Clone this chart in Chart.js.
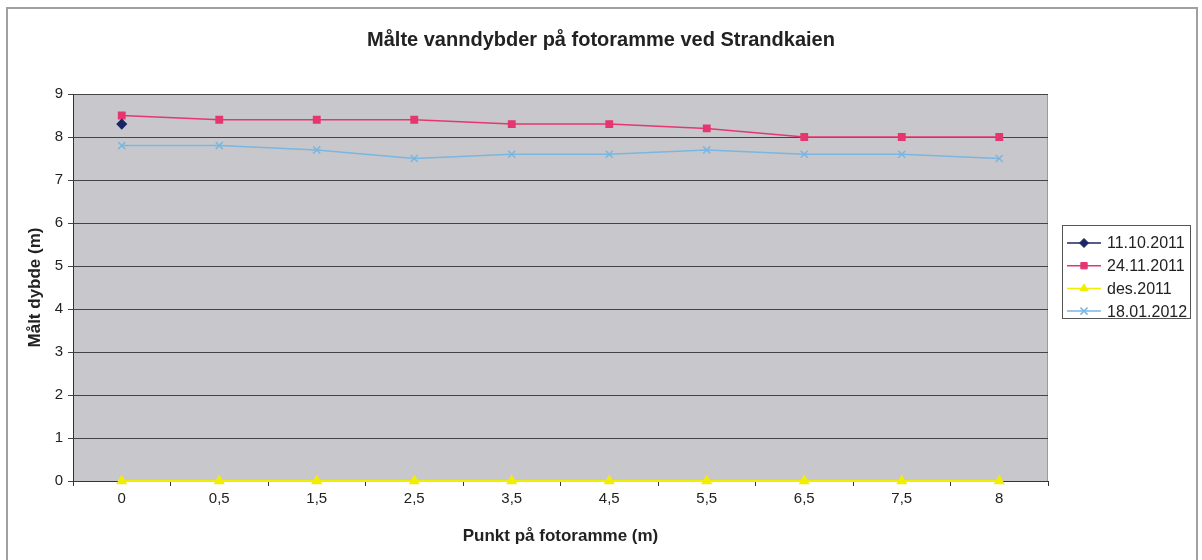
<!DOCTYPE html>
<html lang="no">
<head>
    <meta charset="UTF-8">
    <title>Målte vanndybder på fotoramme ved Strandkaien</title>
    <script src="https://cdn.jsdelivr.net/npm/chart.js"></script>
    <style>
        html, body { margin: 0; padding: 0; background: #fff; }
        .chart-container { width: 1202px; height: 560px; position: relative; }
    </style>
</head>
<body>
    <div class="chart-container">
        <canvas id="depthChart"></canvas>
    </div>

    <script>
        // Measuring points along the photo frame (m)
        const punkter = ['0', '0,5', '1,5', '2,5', '3,5', '4,5', '5,5', '6,5', '7,5', '8'];

        // Measured depths (m) per date; only the first point was measured on 11.10.2011
        const dybde_11_10_2011 = [8.3, null, null, null, null, null, null, null, null, null];
        const dybde_24_11_2011 = [8.5, 8.4, 8.4, 8.4, 8.3, 8.3, 8.2, 8.0, 8.0, 8.0];
        const dybde_des_2011 = [0, 0, 0, 0, 0, 0, 0, 0, 0, 0];
        const dybde_18_01_2012 = [7.8, 7.8, 7.7, 7.5, 7.6, 7.6, 7.7, 7.6, 7.6, 7.5];

        const yTicks = [0, 1, 2, 3, 4, 5, 6, 7, 8, 9];

        const FONT = 'Arial, "Liberation Sans", sans-serif';

        // grey plot area, outer frame and a boxed legend like the spreadsheet original
        const excelLook = {
            id: 'excelLook',
            beforeDraw(chart) {
                const { ctx, chartArea: a } = chart;
                ctx.save();
                ctx.fillStyle = '#c8c8cc';
                ctx.fillRect(a.left, a.top, a.right - a.left, a.bottom - a.top);
                ctx.strokeStyle = '#9a9a9a';
                ctx.lineWidth = 1;
                ctx.strokeRect(a.left + 0.5, a.top + 0.5, a.right - a.left - 1, a.bottom - a.top);
                ctx.restore();
            },
            afterDraw(chart) {
                const ctx = chart.ctx;
                ctx.save();
                // outer frame
                ctx.strokeStyle = '#a0a0a0';
                ctx.lineWidth = 2;
                ctx.strokeRect(7, 8, 1190, 570);

                // legend
                const boxX = 1062.5, boxY = 225.5, boxW = 128, boxH = 93;
                ctx.strokeStyle = '#555';
                ctx.lineWidth = 1;
                ctx.strokeRect(boxX, boxY, boxW, boxH);
                ctx.font = '16px ' + FONT;
                ctx.textBaseline = 'middle';
                chart.data.datasets.forEach((ds, i) => {
                    const y = 243 + i * 22.7;
                    ctx.strokeStyle = ds.borderColor;
                    ctx.lineWidth = 1.5;
                    ctx.beginPath();
                    ctx.moveTo(1067, y);
                    ctx.lineTo(1101, y);
                    ctx.stroke();
                    ctx.fillStyle = ds.pointBackgroundColor;
                    ctx.strokeStyle = ds.pointBorderColor;
                    ctx.lineWidth = ds.pointBorderWidth || 1;
                    Chart.helpers.drawPoint(ctx, {
                        pointStyle: ds.pointStyle,
                        radius: ds.pointRadius,
                        borderWidth: ds.pointBorderWidth || 1,
                        rotation: 0
                    }, 1084, y);
                    ctx.fillStyle = '#222';
                    ctx.fillText(ds.label, 1107, y + 1);
                });
                ctx.restore();
            }
        };

        const ctx = document.getElementById('depthChart').getContext('2d');
        const depthChart = new Chart(ctx, {
            type: 'line',
            data: {
                labels: punkter,
                datasets: [
                    {
                        label: '11.10.2011',
                        data: dybde_11_10_2011,
                        borderColor: '#1c2566',
                        backgroundColor: '#1c2566',
                        pointBackgroundColor: '#1c2566',
                        pointBorderColor: '#1c2566',
                        pointStyle: 'rectRot',
                        pointRadius: 4.5,
                        borderWidth: 1.5
                    },
                    {
                        label: '24.11.2011',
                        data: dybde_24_11_2011,
                        borderColor: '#e6366f',
                        backgroundColor: '#e6366f',
                        pointBackgroundColor: '#e6366f',
                        pointBorderColor: '#e6366f',
                        pointStyle: 'rect',
                        pointRadius: 4.5,
                        borderWidth: 1.5
                    },
                    {
                        label: 'des.2011',
                        data: dybde_des_2011,
                        borderColor: '#f2ee00',
                        backgroundColor: '#f2ee00',
                        pointBackgroundColor: '#f2ee00',
                        pointBorderColor: '#f2ee00',
                        pointStyle: 'triangle',
                        pointRadius: 4.5,
                        borderWidth: 2
                    },
                    {
                        label: '18.01.2012',
                        data: dybde_18_01_2012,
                        borderColor: '#7ab6e0',
                        backgroundColor: '#7ab6e0',
                        pointBackgroundColor: '#7ab6e0',
                        pointBorderColor: '#7ab6e0',
                        pointStyle: 'crossRot',
                        pointRadius: 5,
                        pointBorderWidth: 1.5,
                        borderWidth: 1.5
                    }
                ]
            },
            options: {
                responsive: true,
                maintainAspectRatio: false,
                animation: false,
                clip: false,
                layout: {
                    padding: { left: 7, right: 7, top: 10, bottom: 10 }
                },
                elements: {
                    line: { tension: 0 }
                },
                scales: {
                    x: {
                        offset: true,
                        afterFit(scale) { scale.height = 69; },
                        border: { color: '#333', width: 1 },
                        grid: {
                            offset: true,
                            drawOnChartArea: false,
                            tickLength: 5,
                            color: '#333'
                        },
                        ticks: {
                            color: '#222',
                            font: { family: FONT, size: 15 },
                            padding: 4,
                            maxRotation: 0
                        },
                        title: {
                            display: true,
                            text: 'Punkt på fotoramme (m)',
                            color: '#222',
                            font: { family: FONT, size: 17, weight: 'bold' },
                            padding: { top: 0, bottom: 3.8 }
                        }
                    },
                    y: {
                        min: 0,
                        max: 9,
                        afterFit(scale) { scale.width = 66; },
                        afterBuildTicks(scale) {
                            scale.ticks = yTicks.map(v => ({ value: v }));
                        },
                        border: { color: '#333', width: 1 },
                        grid: {
                            color: '#444',
                            tickLength: 5
                        },
                        ticks: {
                            color: '#222',
                            font: { family: FONT, size: 15 },
                            padding: 5
                        },
                        title: {
                            display: true,
                            text: 'Målt dybde (m)',
                            color: '#222',
                            font: { family: FONT, size: 17, weight: 'bold' },
                            padding: { top: 17.8, bottom: 0 }
                        }
                    },
                    // empty right-hand axis reserving the room the legend sits in
                    legendRoom: {
                        position: 'right',
                        min: 0,
                        max: 9,
                        afterFit(scale) { scale.width = 147; },
                        border: { display: false },
                        grid: { display: false, drawTicks: false },
                        ticks: { display: false }
                    }
                },
                plugins: {
                    legend: { display: false },
                    tooltip: { enabled: false },
                    title: {
                        display: true,
                        text: 'Målte vanndybder på fotoramme ved Strandkaien',
                        color: '#222',
                        font: { family: FONT, size: 20, weight: 'bold' },
                        padding: { top: 18, bottom: 42 }
                    }
                }
            },
            plugins: [excelLook]
        });
    </script>
</body>
</html>
